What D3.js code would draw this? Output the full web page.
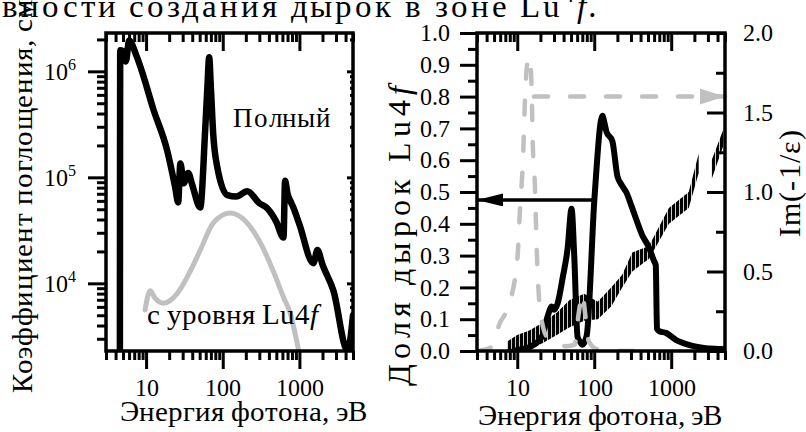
<!DOCTYPE html>
<html lang="ru"><head><meta charset="utf-8">
<script src="https://cdn.jsdelivr.net/npm/d3@7"></script>
<style>
@font-face{font-family:"ChartSerif";src:local("Liberation Serif"),local("LiberationSerif"),local("LiberationSerif-Regular");font-style:normal;font-weight:400}
@font-face{font-family:"ChartSerif";src:local("Liberation Serif Italic"),local("LiberationSerif-Italic");font-style:italic;font-weight:400}
</style>
</head><body style="margin:0;background:#fff">
<svg id="chart" lang="ru" width="806" height="432" style="display:block;background:#fff"></svg>
<script>
// Total absorption coefficient, cm^-1, against photon energy, eV
const totalEnergy = [4.55, 4.6, 5.0, 5.45, 6.0, 7.5, 9.2, 12.3, 18.8, 24, 26.2, 28, 31, 35.4, 40, 50.8, 59, 63, 66.5, 70, 75, 85, 115, 150, 209, 300, 380, 500, 620, 650, 700, 762, 834, 1000, 1520, 1720, 2000, 2780, 4240, 5000];
const totalAbs = [1000, 1.58e6, 1.55e6, 1.24e6, 1.95e6, 1.4e6, 9.1e5, 4.5e5, 1.8e5, 8e4, 5.8e4, 1.35e5, 8.8e4, 1.1e5, 8.5e4, 5.2e4, 2.8e5, 7e5, 1.36e6, 7e5, 2.6e5, 1.24e5, 6.8e4, 6.6e4, 7.4e4, 5.7e4, 5.1e4, 3.8e4, 2.7e4, 9.3e4, 7e4, 6e4, 5.2e4, 3.6e4, 1.55e4, 2.06e4, 1.5e4, 8.5e3, 2.3e3, 5e3];

// Absorption from the Lu 4f level
const lu4fEnergy = [9.7, 11.3, 13, 17, 25.4, 37.6, 50.8, 75, 125, 209, 310, 457, 620, 760, 980, 1100];
const lu4fAbs = [5.6e3, 8.5e3, 7.3e3, 6.5e3, 8e3, 1.3e4, 2.05e4, 3.7e4, 4.6e4, 3.7e4, 2.4e4, 1.3e4, 7.4e3, 5.2e3, 2.3e3, 1.5e3];

// Fraction of holes created in the Lu 4f band
const holeEnergy = [9, 10, 14.6, 20.9, 24.9, 26.5, 28, 30, 33.5, 38.9, 45, 50.8, 55, 60.7, 65, 70.5, 80, 100.7, 128, 135, 144, 172, 200, 230, 260, 311, 419, 515, 598, 630, 654, 700, 855, 1150, 1700, 2800, 4500, 5000];
const holeFraction = [0, 0.003, 0.013, 0.045, 0.11, 0.13, 0.14, 0.13, 0.15, 0.23, 0.32, 0.447, 0.3, 0.045, 0.03, 0.02, 0.05, 0.48, 0.74, 0.72, 0.69, 0.66, 0.55, 0.52, 0.5, 0.45, 0.365, 0.325, 0.283, 0.27, 0.07, 0.062, 0.057, 0.035, 0.019, 0.009, 0.006, 0.005];

// Energy loss function Im(-1/ε)
const lossEnergy = [3, 4.45, 6.0, 7.36, 10, 10.8, 11.9, 12.6, 13.7, 14.6, 15.5, 15.9, 16.9, 17.9, 19.6, 24.2, 32.5, 43.8, 55.6, 63, 70.5, 76, 85, 111, 211, 600];
const lossValue = [0, 0.02, 0.18, 0.26, 0.57, 0.87, 1.22, 1.58, 1.83, 1.85, 1.58, 1.31, 1.06, 0.64, 0.28, 0.09, 0.05, 0.03, 0.04, 0.24, 0.36, 0.24, 0.06, 0.01, 0, 0];

// Scatter band of the oscillating curve on the Im(-1/ε) scale (null = gap)
const bandEnergy = [7.4, 10, 14.6, 21.5, 32.6, 47.9, 74, 111, 166, 231, 312, 515, 933, 1690, 2275, 2700, 3350, 5000];
const bandLow  = [0, 0, 0.01, 0.05, 0.1, 0.15, 0.19, 0.2, 0.28, 0.4, 0.5, 0.58, 0.8, 0.9, 1.12, null, 1.08, 1.32];
const bandHigh = [0.06, 0.1, 0.13, 0.18, 0.24, 0.32, 0.36, 0.31, 0.4, 0.48, 0.62, 0.66, 0.9, 1.0, 1.24, null, 1.2, 1.42];

// Arrows that tie each curve to its axis: [energy, value]
const holeArrow = [[100, 0.475], [3, 0.475]];
const lossArrow = [[16.5, 1.6], [5000, 1.6]];

// Tick values
const energyMajorTicks = [10, 100, 1000];
const energyMinorTicks = [3, 4, 5, 6, 7, 8, 9, 20, 30, 40, 50, 60, 70, 80, 90, 200, 300, 400, 500, 600, 700, 800, 900, 2000, 3000, 4000, 5000];
const absMajorTicks = [1e4, 1e5, 1e6];
const absMinorTicks = [3e3, 4e3, 5e3, 6e3, 7e3, 8e3, 9e3, 2e4, 3e4, 4e4, 5e4, 6e4, 7e4, 8e4, 9e4, 2e5, 3e5, 4e5, 5e5, 6e5, 7e5, 8e5, 9e5, 2e6];
const fractionMajorTicks = [0, 0.1, 0.2, 0.3, 0.4, 0.5, 0.6, 0.7, 0.8, 0.9, 1.0];
const fractionMinorTicks = [0.05, 0.15, 0.25, 0.35, 0.45, 0.55, 0.65, 0.75, 0.85, 0.95];
const lossMajorTicks = [0, 0.5, 1.0, 1.5, 2.0];
const lossMinorTicks = [0.25, 0.75, 1.25, 1.75];

const FONT = '"ChartSerif", "Liberation Serif", "Times New Roman", serif';
const GRAY = "#c0c0c0";
const svg = d3.select("#chart");

const L = {x0: 106, x1: 353, y0: 33, y1: 351};
const R = {x0: 477, x1: 725, y0: 33, y1: 351};

const xL = d3.scaleLog().domain([3, 5000]).range([L.x0, L.x1]);
const yL = d3.scaleLog().domain([2300, 2.3e6]).range([L.y1, L.y0]);
const xR = d3.scaleLog().domain([3, 5000]).range([R.x0, R.x1]);
const yR = d3.scaleLinear().domain([0, 1]).range([R.y1, R.y0]);
const yR2 = d3.scaleLinear().domain([0, 2]).range([R.y1, R.y0]);

function draw() {
  svg.selectAll("*").remove();

  const defs = svg.append("defs");
  [["clipL", L], ["clipR", R]].forEach(([id, p]) => {
    defs.append("clipPath").attr("id", id).append("rect")
      .attr("x", p.x0).attr("y", p.y0).attr("width", p.x1 - p.x0).attr("height", p.y1 - p.y0);
  });
  const hatch = defs.append("pattern").attr("id", "hatch")
    .attr("patternUnits", "userSpaceOnUse").attr("width", 4).attr("height", 20);
  hatch.append("rect").attr("width", 3.2).attr("height", 20).attr("fill", "#000");

  function arrowMarker(id, color, len, half) {
    defs.append("marker").attr("id", id)
      .attr("markerUnits", "userSpaceOnUse")
      .attr("viewBox", `0 ${-half} ${len} ${2 * half}`)
      .attr("refX", len).attr("refY", 0)
      .attr("markerWidth", len).attr("markerHeight", 2 * half)
      .attr("orient", "auto")
      .append("path").attr("d", `M0,${-half}L${len},0L0,${half}Z`).attr("fill", color);
  }
  arrowMarker("arrowBlack", "#000", 26, 6.5);
  arrowMarker("arrowGray", GRAY, 25, 8);

  function txt(parent, size) {
    return parent.append("text").style("font-family", FONT)
      .attr("font-size", size).attr("fill", "#000");
  }

  // Top line of the running text above the figure
  const head = txt(svg, 33).attr("x", 2).attr("y", 17)
    .attr("textLength", 595).attr("lengthAdjust", "spacing")
    .text("вности создания дырок в зоне Lu");
  head.append("tspan").attr("font-size", 22).attr("dy", -15).text("4");
  head.append("tspan").attr("dy", 15).attr("font-style", "italic").text("f.");

  // Generic tick helper built on d3 axes
  function tickGroup(axisFn, scale, values, size, transform, fmt, pad) {
    const a = axisFn(scale).tickValues(values).tickSize(size).tickSizeOuter(0)
      .tickPadding(pad || 0).tickFormat(fmt || (() => ""));
    const g = svg.append("g").attr("transform", transform).call(a);
    g.select(".domain").remove();
    g.attr("font-family", null).style("font-family", FONT).attr("font-size", 24);
    g.selectAll(".tick line").attr("stroke", "#000").attr("stroke-width", 3);
    if (!fmt) g.selectAll(".tick text").remove();
    else g.selectAll(".tick text").style("font-family", FONT).attr("fill", "#000");
    return g;
  }

  function energyTicks(x, p) {
    tickGroup(d3.axisBottom, x, energyMinorTicks, 9, `translate(0,${p.y1})`);
    tickGroup(d3.axisBottom, x, energyMajorTicks, 18, `translate(0,${p.y1})`, d3.format("d"), 10);
    tickGroup(d3.axisBottom, x, energyMinorTicks, 9, `translate(0,${p.y0})`);
    tickGroup(d3.axisBottom, x, energyMajorTicks, 18, `translate(0,${p.y0})`);
  }

  // ---------- Left panel: absorption coefficient ----------
  energyTicks(xL, L);
  tickGroup(d3.axisLeft, yL, absMinorTicks, 9, `translate(${L.x0},0)`);
  tickGroup(d3.axisLeft, yL, absMajorTicks, 18, `translate(${L.x0},0)`);
  tickGroup(d3.axisLeft, yL, absMinorTicks, 3, `translate(${L.x1},0)`);
  tickGroup(d3.axisLeft, yL, absMajorTicks, 6, `translate(${L.x1},0)`);

  const powLabels = svg.append("g");
  absMajorTicks.forEach(v => {
    const t = txt(powLabels, 24).attr("text-anchor", "end")
      .attr("x", 76).attr("y", yL(v) + 9).text("10");
    t.append("tspan").attr("font-size", 16).attr("dy", -10).text(Math.round(Math.log10(v)));
  });

  const lineL = d3.line().x(d => xL(d[0])).y(d => yL(d[1])).curve(d3.curveMonotoneX);
  const plotL = svg.append("g").attr("clip-path", "url(#clipL)");
  plotL.append("path").attr("d", lineL(d3.zip(lu4fEnergy, lu4fAbs)))
    .attr("fill", "none").attr("stroke", GRAY).attr("stroke-width", 5)
    .attr("stroke-linejoin", "round").attr("stroke-linecap", "round");
  plotL.append("path").attr("d", lineL(d3.zip(totalEnergy, totalAbs)))
    .attr("fill", "none").attr("stroke", "#000").attr("stroke-width", 6.5)
    .attr("stroke-linejoin", "round").attr("stroke-linecap", "round");

  txt(svg, 27).attr("x", 233).attr("y", 127)
    .attr("textLength", 97).attr("lengthAdjust", "spacing").text("Полный");
  const lvl = txt(svg, 29).attr("x", 147).attr("y", 324)
    .attr("textLength", 171).attr("lengthAdjust", "spacing").text("с уровня Lu4");
  lvl.append("tspan").attr("font-style", "italic").text("f");

  svg.append("rect").attr("x", L.x0).attr("y", L.y0).attr("width", L.x1 - L.x0).attr("height", L.y1 - L.y0)
    .attr("fill", "none").attr("stroke", "#000").attr("stroke-width", 3.5);

  // ---------- Right panel: hole fraction and loss function ----------
  energyTicks(xR, R);
  tickGroup(d3.axisLeft, yR, fractionMinorTicks, 9, `translate(${R.x0},0)`);
  tickGroup(d3.axisLeft, yR, fractionMajorTicks, 17, `translate(${R.x0},0)`, d3.format(".1f"), 10);
  tickGroup(d3.axisRight, yR2, lossMinorTicks, -9, `translate(${R.x1},0)`);
  tickGroup(d3.axisRight, yR2, lossMajorTicks, -18, `translate(${R.x1},0)`, d3.format(".1f"), 18);

  const plotR = svg.append("g").attr("clip-path", "url(#clipR)");
  const bandRows = bandEnergy.map((e, i) => ({e, lo: bandLow[i], hi: bandHigh[i]}));
  plotR.append("path")
    .attr("d", d3.area().defined(d => d.lo != null)
      .x(d => xR(d.e)).y0(d => yR2(d.lo)).y1(d => yR2(d.hi))(bandRows))
    .attr("fill", "url(#hatch)");

  plotR.append("path")
    .attr("d", d3.line().x(d => xR(d[0])).y(d => yR(d[1])).curve(d3.curveMonotoneX)(d3.zip(holeEnergy, holeFraction)))
    .attr("fill", "none").attr("stroke", "#000").attr("stroke-width", 6)
    .attr("stroke-linejoin", "round").attr("stroke-linecap", "round");

  plotR.append("path")
    .attr("d", d3.line().x(d => xR(d[0])).y(d => yR2(d[1])).curve(d3.curveMonotoneX)(d3.zip(lossEnergy, lossValue)))
    .attr("fill", "none").attr("stroke", GRAY).attr("stroke-width", 4.5)
    .attr("stroke-dasharray", "14,22").attr("stroke-linecap", "round");

  const arrowLine = d3.line();
  svg.append("path")
    .attr("d", arrowLine(holeArrow.map(d => [xR(d[0]), yR(d[1])])))
    .attr("stroke", "#000").attr("stroke-width", 3.5).attr("fill", "none")
    .attr("marker-end", "url(#arrowBlack)");
  svg.append("path")
    .attr("d", arrowLine(lossArrow.map(d => [xR(d[0]), yR2(d[1])])))
    .attr("stroke", GRAY).attr("stroke-width", 4.5).attr("fill", "none")
    .attr("stroke-dasharray", "14,22").attr("stroke-linecap", "round")
    .attr("marker-end", "url(#arrowGray)");

  svg.append("rect").attr("x", R.x0).attr("y", R.y0).attr("width", R.x1 - R.x0).attr("height", R.y1 - R.y0)
    .attr("fill", "none").attr("stroke", "#000").attr("stroke-width", 3.5);

  // ---------- Axis titles ----------
  txt(svg, 29).attr("x", 120).attr("y", 421)
    .attr("textLength", 247).attr("lengthAdjust", "spacing").text("Энергия фотона, эВ");
  txt(svg, 29).attr("x", 478).attr("y", 425)
    .attr("textLength", 244).attr("lengthAdjust", "spacing").text("Энергия фотона, эВ");

  txt(svg, 29).attr("transform", "translate(32,393) rotate(-90)")
    .attr("textLength", 393).attr("lengthAdjust", "spacing")
    .text("Коэффициент поглощения, см");

  const fracTitle = txt(svg, 32).attr("transform", "translate(410,386) rotate(-90)")
    .attr("textLength", 300).attr("lengthAdjust", "spacing").text("Доля дырок Lu4");
  fracTitle.append("tspan").attr("font-style", "italic").text("f");

  txt(svg, 30).attr("transform", "translate(800,237) rotate(-90)")
    .attr("textLength", 107).attr("lengthAdjust", "spacing").text("Im(-1/ε)");
}

draw();
// Lay the text out again once the serif face has finished loading
document.fonts.load('24px "ChartSerif"', "Полный 10")
  .then(() => document.fonts.load('italic 24px "ChartSerif"', "f"))
  .then(draw, draw);
</script>
</body></html>
